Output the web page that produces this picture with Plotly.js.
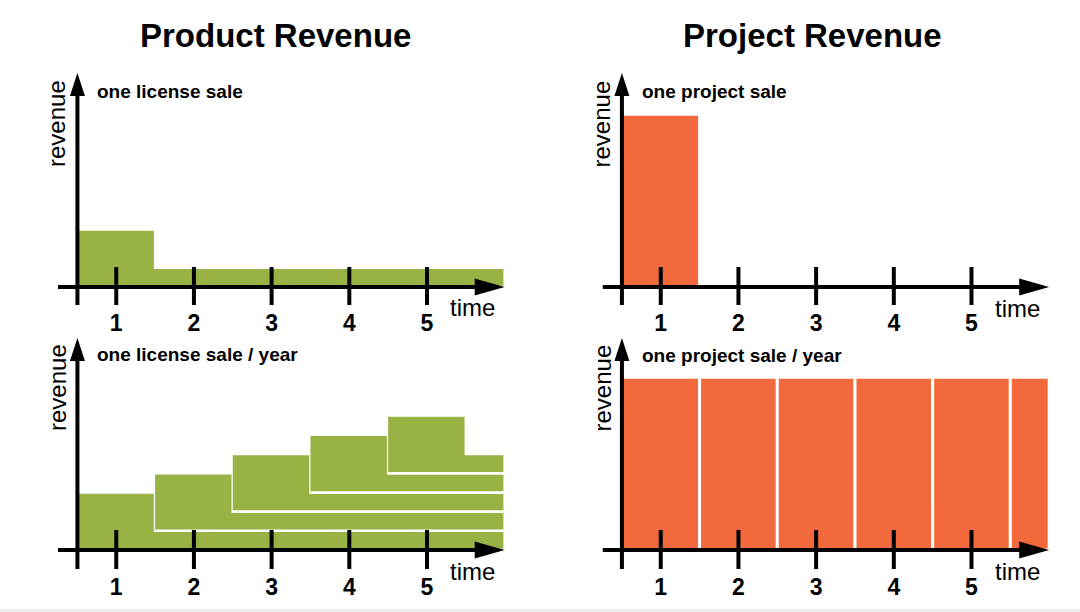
<!DOCTYPE html>
<html><head><meta charset="utf-8">
<script src="https://cdn.plot.ly/plotly-3.0.1.min.js"></script>
<style>html,body{margin:0;padding:0;background:#fff}</style>
</head><body>
<div id="chart" style="width:1080px;height:612px"></div>
<script>
// ---------------- data ----------------
const tickYears = [1, 2, 3, 4, 5];
const tickLabels = ["1", "2", "3", "4", "5"];
const periodEdges = [0.5, 1.5, 2.5, 3.5, 4.5, 5.5, 6.0]; // boundaries of the yearly periods shown
// one license sale in year 1: licence price, then yearly maintenance
const oneLicense = [3, 1, 1, 1, 1, 1];
// one license sold every year (one array per sale year)
const licenseYear1 = [3, 1, 1, 1, 1, 1];
const licenseYear2 = [0, 3, 1, 1, 1, 1];
const licenseYear3 = [0, 0, 3, 1, 1, 1];
const licenseYear4 = [0, 0, 0, 3, 1, 1];
const licenseYear5 = [0, 0, 0, 0, 3, 1];
// projects
const oneProject = [9, 0, 0, 0, 0, 0];
const projectPerYear = [9, 9, 9, 9, 9, 9];

const panelTitles = ["Product Revenue", "Project Revenue"];
const panelSubtitles = ["one license sale", "one project sale", "one license sale / year", "one project sale / year"];

// ---------------- style ----------------
const GREEN = "#98B244";
const ORANGE = "#F26A3B";
const FONT = "Liberation Sans, Arial, sans-serif";
const W = 1080, H = 612;
const X_RANGE = [0.25, 6.03];
const X_PX = 449 / (X_RANGE[1] - X_RANGE[0]);
const Y_PX = 19.2;
const TOP_RANGE = [-0.9375, 11.198];
const BOT_RANGE = [-0.99, 11.094];

// step-shaped filled area for one revenue stream stacked on a base
function stepPolygon(base, vals) {
  let i0 = vals.findIndex(v => v > 0), i1 = vals.length - 1;
  while (i1 > i0 && vals[i1] <= 0) i1--;
  const xs = [], ys = [];
  for (let i = i0; i <= i1; i++) {
    xs.push(periodEdges[i], periodEdges[i + 1]);
    ys.push(base[i] + vals[i], base[i] + vals[i]);
  }
  for (let i = i1; i >= i0; i--) {
    xs.push(periodEdges[i + 1], periodEdges[i]);
    ys.push(base[i], base[i]);
  }
  return {xs, ys};
}

const traces = [];
function addStreams(streams, xa, ya) {
  let base = streams[0].map(() => 0);
  streams.forEach(vals => {
    const p = stepPolygon(base, vals);
    traces.push({
      type: "scatter", mode: "lines", x: p.xs, y: p.ys, xaxis: xa, yaxis: ya,
      fill: "toself", fillcolor: GREEN, line: {color: "#ffffff", width: 2.5},
      hoverinfo: "skip", showlegend: false
    });
    base = base.map((b, i) => b + vals[i]);
  });
}
function addBars(vals, xa, ya) {
  const xs = [], ws = [], ys = [];
  vals.forEach((v, i) => {
    if (v <= 0) return;
    xs.push((periodEdges[i] + periodEdges[i + 1]) / 2);
    ws.push(periodEdges[i + 1] - periodEdges[i]);
    ys.push(v);
  });
  traces.push({
    type: "bar", x: xs, y: ys, width: ws, xaxis: xa, yaxis: ya,
    marker: {color: ORANGE, line: {color: "#ffffff", width: 3}},
    hoverinfo: "skip", showlegend: false
  });
}

addStreams([oneLicense], "x", "y");
addBars(oneProject, "x2", "y2");
addStreams([licenseYear1, licenseYear2, licenseYear3, licenseYear4, licenseYear5], "x3", "y3");
addBars(projectPerYear, "x4", "y4");

// axis arrows and ticks (decoration)
const shapes = [];
function axisDecor(xr, yr, yMin, tipY) {
  const lw = 4, col = "#000";
  const yArrowLen = 23 / Y_PX, yHalf = 7.5 / X_PX;
  const xTip = 6.0, xArrowLen = 30 / X_PX, xHalf = 8.5 / Y_PX;
  shapes.push({type: "line", xref: xr, yref: yr, x0: 0.5, x1: 0.5, y0: yMin, y1: tipY - yArrowLen + 0.3, line: {color: col, width: lw}});
  shapes.push({type: "path", xref: xr, yref: yr, fillcolor: col, line: {width: 0},
    path: `M${0.5 - yHalf},${tipY - yArrowLen} L0.5,${tipY} L${0.5 + yHalf},${tipY - yArrowLen} Z`});
  shapes.push({type: "line", xref: xr, yref: yr, x0: X_RANGE[0], x1: xTip - xArrowLen + 0.05, y0: 0, y1: 0, line: {color: col, width: lw}});
  shapes.push({type: "path", xref: xr, yref: yr, fillcolor: col, line: {width: 0},
    path: `M${xTip - xArrowLen},${-xHalf} L${xTip},0 L${xTip - xArrowLen},${xHalf} Z`});
  tickYears.forEach(t => shapes.push({type: "line", xref: xr, yref: yr, x0: t, x1: t, y0: yMin, y1: 20 / Y_PX, line: {color: col, width: lw}}));
}
axisDecor("x", "y", TOP_RANGE[0], 214 / Y_PX);
axisDecor("x2", "y2", TOP_RANGE[0], 214 / Y_PX);
axisDecor("x3", "y3", BOT_RANGE[0], 212 / Y_PX);
axisDecor("x4", "y4", BOT_RANGE[0], 212 / Y_PX);
// thin grey strip at the bottom edge of the original picture
shapes.push({type: "rect", xref: "paper", yref: "paper", x0: 0, x1: 1, y0: 0, y1: 3 / H, fillcolor: "#ececec", line: {width: 0}, layer: "below"});

// ---------------- annotations ----------------
const px = v => v / W, py = v => 1 - v / H;
const annotations = [];
function txt(text, x, y, size, opts) {
  annotations.push(Object.assign({text, x: px(x), y: py(y), xref: "paper", yref: "paper", showarrow: false,
    xanchor: "center", yanchor: "middle", font: {family: FONT, size, color: "#000"}}, opts || {}));
}
txt(panelTitles[0], 275, 35, 33, {font: {family: FONT, size: 33, color: "#000", weight: "bold"}});
txt(panelTitles[1], 812, 35, 33, {font: {family: FONT, size: 33, color: "#000", weight: "bold"}});
const subPos = [[95, 91], [640, 91], [95, 354.5], [640, 355.5]];
panelSubtitles.forEach((s, i) => txt(s, subPos[i][0], subPos[i][1], 19, {xanchor: "left", font: {family: FONT, size: 19, color: "#000", weight: "bold"}}));
[[57, 124], [601.5, 124], [57, 388], [601.5, 388]].forEach(p => txt("revenue", p[0], p[1], 24, {textangle: -90}));
[[472, 307], [1018, 308], [472, 571], [1018, 571]].forEach(p => txt("time", p[0], p[1], 24));

function xAxis(domain, anchor) {
  return {domain, anchor, range: X_RANGE, showgrid: false, zeroline: false, showline: false, ticks: "",
    tickmode: "array", tickvals: tickYears, ticktext: tickLabels, fixedrange: true, ticklabelstandoff: 2,
    tickfont: {family: FONT, size: 23, color: "#000", weight: "bold"}};
}
function yAxis(domain, anchor, range) {
  return {domain, anchor, range, showgrid: false, zeroline: false, showline: false, showticklabels: false, ticks: "", fixedrange: true};
}
const LX = [58 / W, 507 / W], RX = [602.5 / W, 1051.5 / W];
const TY = [1 - 305 / H, 1 - 72 / H], BY = [1 - 569 / H, 1 - 337 / H];

const layout = {
  width: W, height: H, margin: {l: 0, r: 0, t: 0, b: 0},
  paper_bgcolor: "#fff", plot_bgcolor: "rgba(0,0,0,0)", showlegend: false, barmode: "overlay",
  xaxis: xAxis(LX, "y"), yaxis: yAxis(TY, "x", TOP_RANGE),
  xaxis2: xAxis(RX, "y2"), yaxis2: yAxis(TY, "x2", TOP_RANGE),
  xaxis3: xAxis(LX, "y3"), yaxis3: yAxis(BY, "x3", BOT_RANGE),
  xaxis4: xAxis(RX, "y4"), yaxis4: yAxis(BY, "x4", BOT_RANGE),
  shapes, annotations
};
Plotly.newPlot("chart", traces, layout, {displayModeBar: false, staticPlot: true});
</script>
</body></html>
